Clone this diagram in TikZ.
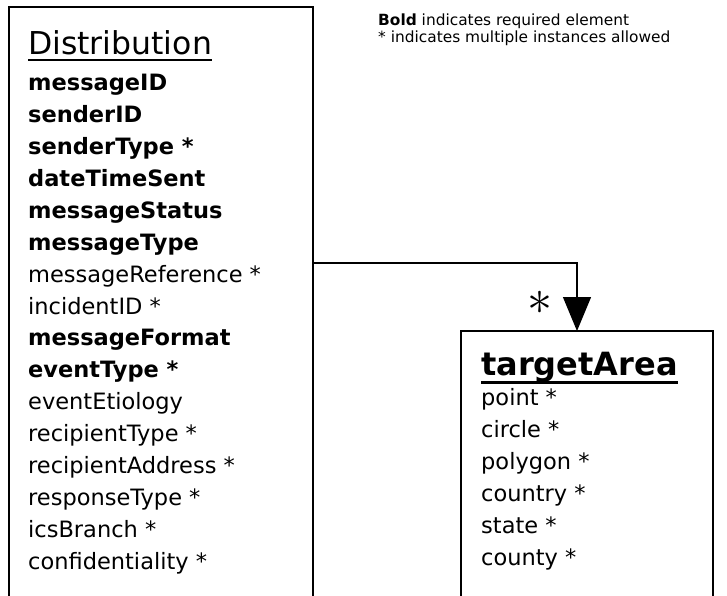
\documentclass[tikz,border=0pt]{standalone}
\usepackage{fontspec}
\setmainfont{DejaVu Sans}
\usetikzlibrary{arrows.meta}

\begin{document}
\begin{tikzpicture}[x=1pt,y=-1pt,
    box/.style={line width=2pt},
    link/.style={line width=1.3pt,-{Triangle[width=28pt,length=34pt]}},
    title/.style={anchor=base west,inner sep=0pt,font=\fontsize{31.5}{31.5}\selectfont},
    attr/.style={anchor=base west,inner sep=0pt,font=\fontsize{22.5}{22.5}\selectfont},
    legend/.style={anchor=base west,inner sep=0pt,font=\fontsize{15.4}{15.4}\selectfont}]
    \useasboundingbox (0,0) rectangle (727,596);
    % legend
    \node[legend] (req) at (378,26) {\textbf{Bold} indicates required element};
    \node[legend] (multi) at (378,43) {* indicates multiple instances allowed};
    % Distribution
    \draw[box] (9,596) |- (313,7) -- (313,596);
    \node[title] (dist) at (28,55) {Distribution};
    \draw[line width=2.5pt] ([yshift=-5pt]dist.base west) -- ([yshift=-5pt]dist.base east);
    \foreach \txt [count=\i] in {\textbf{messageID},\textbf{senderID},\textbf{senderType *},
        \textbf{dateTimeSent},\textbf{messageStatus},\textbf{messageType},messageReference *,
        incidentID *,\textbf{messageFormat},\textbf{eventType *},eventEtiology,recipientType *,
        recipientAddress *,responseType *,icsBranch *,confidentiality *}
      \node[attr] (dist\i) at (28,{91+31.87*(\i-1)}) {\txt};
    % targetArea
    \draw[box] (461,596) |- (713,331) -- (713,596);
    \node[title,font=\bfseries\fontsize{32}{32}\selectfont] (tgt) at (481,375) {targetArea};
    \draw[line width=3pt] ([yshift=-7pt]tgt.base west) -- ([yshift=-7pt]tgt.base east);
    \foreach \txt [count=\i] in {point *,circle *,polygon *,country *,state *,county *}
      \node[attr] (tgt\i) at (481,{405+32*(\i-1)}) {\txt};
    % link
    \coordinate (out) at (313,263);
    \coordinate (in) at (577,331);
    \draw[link] (out) -| (in);
    \node[scale=5] (mult) at (540,303) {$\ast$};
\end{tikzpicture}
\end{document}
